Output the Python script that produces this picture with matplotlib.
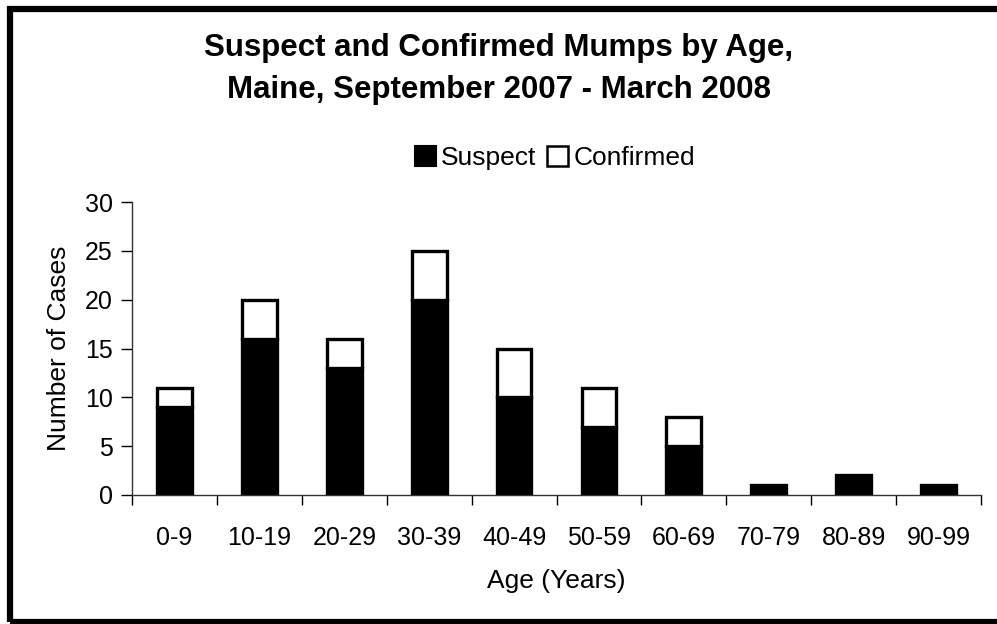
import matplotlib
matplotlib.use("Agg")
import matplotlib.pyplot as plt
from matplotlib.patches import Patch, Rectangle
from numpy import arange, array

plt.rcParams['font.family'] = ['Liberation Sans', 'DejaVu Sans']

# data
age_groups = ["0-9", "10-19", "20-29", "30-39", "40-49",
              "50-59", "60-69", "70-79", "80-89", "90-99"]
suspect = array([9, 16, 13, 20, 10, 7, 5, 1, 2, 1])
confirmed = array([2, 4, 3, 5, 5, 4, 3, 0, 0, 0])
y_ticks = [0, 5, 10, 15, 20, 25, 30]

fig = plt.figure(figsize=(9.97, 6.24), dpi=100)
ax = fig.add_axes([132 / 997, 1 - 495 / 624, (981 - 132) / 997, (495 - 202) / 624])

x = arange(len(age_groups))
w = 0.41
ax.bar(x, suspect, width=w, color="black", edgecolor="black", linewidth=2.4,
       label="Suspect")
conf_x = x[confirmed > 0]
ax.bar(conf_x, confirmed[confirmed > 0], width=w, bottom=suspect[confirmed > 0],
       color="white", edgecolor="black", linewidth=2.4, label="Confirmed")

ax.set_xlim(-0.5, len(age_groups) - 0.5)
ax.set_ylim(0, 30)
ax.set_yticks(y_ticks)
ax.set_xticks(x)
ax.set_xticklabels(age_groups)
ax.set_xticks(arange(len(age_groups) + 1) - 0.5, minor=True)
ax.tick_params(axis="x", which="major", length=0, pad=22, labelsize=18)
ax.tick_params(axis="x", which="minor", length=7, width=1, direction="out")
ax.tick_params(axis="y", length=8, width=1, direction="out", pad=6, labelsize=18)

for side in ["top", "right"]:
    ax.spines[side].set_visible(False)
for side in ["left", "bottom"]:
    ax.spines[side].set_linewidth(1)
    ax.spines[side].set_color("#333333")

ax.set_xlabel("Age (Years)", fontsize=19, labelpad=14)
ax.set_ylabel("Number of Cases", fontsize=19, labelpad=10)

fig.text(0.500, 1 - 48 / 624, "Suspect and Confirmed Mumps by Age,",
         ha="center", va="center", fontsize=22.5, fontweight="bold")
fig.text(0.500, 1 - 90 / 624, "Maine, September 2007 - March 2008",
         ha="center", va="center", fontsize=22.5, fontweight="bold")

handles = [Patch(facecolor="black", edgecolor="black", linewidth=1.5),
           Patch(facecolor="white", edgecolor="black", linewidth=1.8)]
fig.legend(handles, ["Suspect", "Confirmed"], loc="center",
           bbox_to_anchor=(555 / 997, 1 - 158 / 624), ncol=2, frameon=False,
           fontsize=19, handlelength=0.8, handleheight=0.8,
           handletextpad=0.2, columnspacing=0.4)

# outer frame around the picture
fig.patches.append(Rectangle((10 / 997, 1 - 622 / 624), 1.0, (622 - 8.5) / 624,
                             transform=fig.transFigure, fill=False,
                             edgecolor="black", linewidth=4.5))

fig.savefig("out.png", dpi=100)
